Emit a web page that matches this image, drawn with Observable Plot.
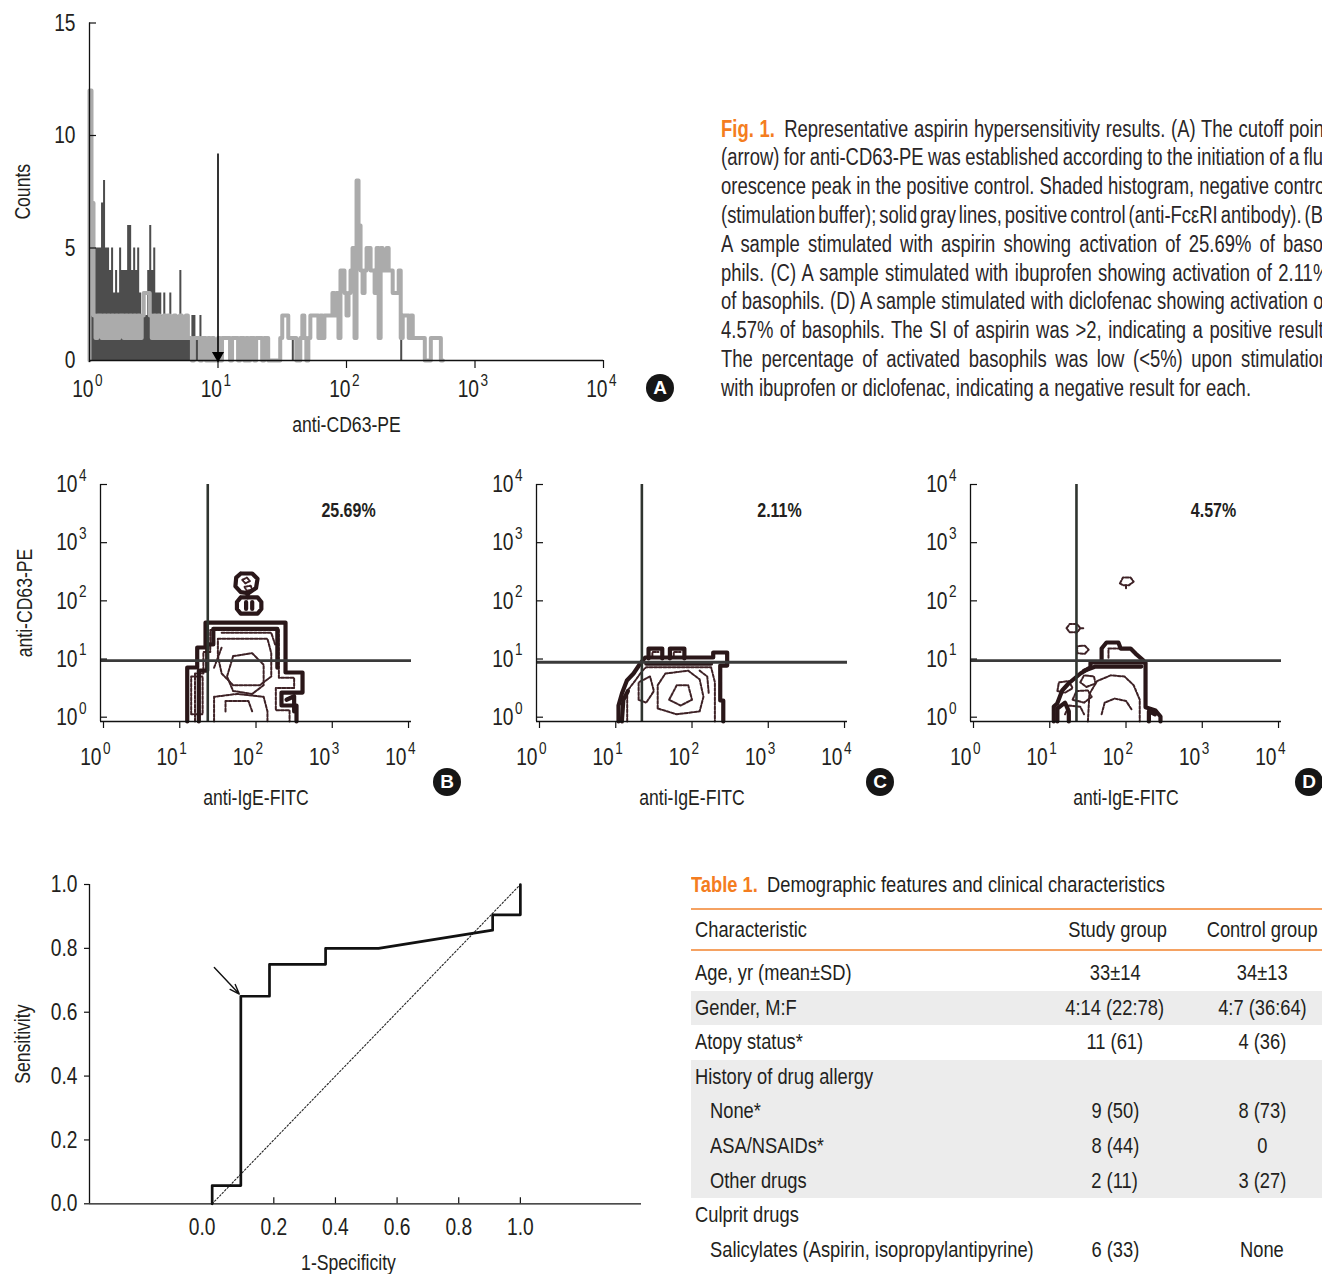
<!DOCTYPE html>
<html><head><meta charset="utf-8">
<script src="https://cdn.jsdelivr.net/npm/d3@7"></script>
<script src="https://cdn.jsdelivr.net/npm/@observablehq/plot@0.6"></script>
<style>
html,body{margin:0;padding:0;background:#fff}
#page{position:relative;width:1322px;height:1274px;overflow:hidden;background:#fff;color:#231f20;
  font-family:"Liberation Sans",Arimo,Arial,sans-serif}
.badge{position:absolute;width:28px;height:28px;border-radius:50%;background:#161616;color:#fff;
  font:bold 19px "Liberation Sans",Arial,sans-serif;display:flex;align-items:center;justify-content:center}
.cap{position:absolute;left:721px;font-size:23px;line-height:28.8px;height:28.8px;white-space:nowrap;color:#2a2627}
.cap > span{display:inline-block;transform-origin:0 50%}
.orange{color:#f47d20;font-weight:bold}
.cell{position:absolute;white-space:nowrap;font-size:22.5px;line-height:34.6px;height:34.6px}
.cell > span{display:inline-block}
.rule{position:absolute;left:691px;width:700px;height:2px;background:#f5a262}
.shade{position:absolute;left:691px;width:700px;height:34.6px;background:#ececec}
</style></head>
<body><div id="page"></div>
<script>
// ---------------- DATA ----------------
// Panel A: histogram counts per channel (64 channels per decade, starting at 10^0)
const channelsPerDecade = 64;
const negativeCounts = [5,5,5,5,5,5,7,8,5,5,4,5,3,4,3,5,4,4,4,6,6,4,5,4,5,3,2,2,2,4,6,4,5,3,3,3,2,3,2,2,3,1,2,1,2,4,2,1,1,1,1,2,2,1,1,2,1];
const negativeStray = [[101,1],[155,1]]; // [channel, count]
const positiveCounts = [12,7,2,1,2,2,1,2,1,2,1,2,1,2,1,2,2,1,2,1,2,1,2,1,2,1,2,3,3,3,2,1,2,1,2,1,1,2,1,2,1,1,2,1,1,2,1,1,2,1,1,0,1,1,1,0,1,1,0,1,
  0,1,0,0,1,0,1,1,
  1,1,0,1,1,1,0,1,1,0,1,0,1,1,0,1,1,1,0,1,1,
  0,0,0,0,0,0,
  1,2,2,2,1,1,1,1,0,0,1,2,1,0,1,2,2,2,2,1,2,1,2,2,2,2,3,2,3,1,4,4,3,2,3,4,5,1,8,6,4,3,4,5,5,4,4,3,5,1,5,4,4,5,4,4,3,3,3,4,1,2,2,2,1,2,1,1,1,1,1,1,0,0,0,1,1,1,1,1,0];
const countTicks = [0, 5, 10, 15];
const decades = [1, 10, 100, 1000, 10000];
const cutoffArrow = [{x: 10, top: 9.2, bottom: 0}];

// Panels B-D: contour outlines, [log10 anti-IgE-FITC, log10 anti-CD63-PE]
const bThick = [
  [[1.098,-0.074],[1.098,0.854],[1.229,0.854],[1.229,1.198],[1.338,1.198],[1.338,1.627],[2.387,1.627],[2.387,0.768],[2.61,0.768],[2.61,0.424],[2.334,0.424],[2.334,0.201],[2.531,0.201],[2.531,-0.074]],
  [[1.25,-0.074],[1.25,0.80],[1.36,0.80],[1.36,1.25],[1.44,1.25],[1.44,1.52],[2.28,1.52],[2.28,0.85]],
  [[1.80,2.06],[2.02,2.06],[2.07,1.98],[2.07,1.86],[2.02,1.78],[1.80,1.78],[1.75,1.86],[1.75,1.98],[1.80,2.06]],
  [[1.87,1.86],[1.87,1.98]],
  [[1.95,1.86],[1.95,1.98]],
  [[1.80,2.47],[1.95,2.47],[2.02,2.38],[2.00,2.22],[1.90,2.13],[1.80,2.15],[1.73,2.25],[1.74,2.40],[1.80,2.47]],
  [[1.89,2.13],[1.89,2.06]],
  [[2.40,0.30],[2.50,0.36],[2.50,0.10]]
];
const bThin = [
  [[1.20,-0.074],[1.20,0.75],[1.31,0.75],[1.31,1.12],[1.40,1.12],[1.40,1.50],[2.30,1.50],[2.30,0.68],[2.50,0.68],[2.50,0.50],[2.26,0.50],[2.26,0.12],[2.44,0.12],[2.44,-0.074]],
  [[1.50,1.35],[2.15,1.35],[2.20,1.10],[2.20,0.70],[2.05,0.55],[1.70,0.55],[1.55,0.75],[1.50,1.05],[1.50,1.35]],
  [[1.70,1.05],[1.95,1.10],[2.10,0.90],[2.10,0.55],[1.95,0.40],[1.70,0.45],[1.62,0.70],[1.70,1.05]],
  [[1.45,-0.074],[1.45,0.35],[1.75,0.40],[2.10,0.35],[2.15,0.10],[2.15,-0.074]],
  [[1.15,0.05],[1.15,0.70],[1.30,0.70],[1.30,0.05],[1.15,0.05]],
  [[1.55,1.45],[2.20,1.45],[2.25,1.25]],
  [[1.60,0.10],[1.60,0.28],[1.90,0.28],[1.95,0.10]],
  [[1.45,0.85],[1.55,1.20]],
  [[1.82,2.36],[1.88,2.40],[1.92,2.34],[1.86,2.30],[1.82,2.36]],
  [[1.85,2.24],[1.93,2.26],[1.95,2.20],[1.88,2.17],[1.85,2.24]]
];
const cThick = [
  [[1.036,-0.074],[1.036,0.20],[1.081,0.407],[1.146,0.631],[1.233,0.751],[1.321,0.923],[1.386,1.026],[2.278,1.026],[2.278,1.112],[2.461,1.112],[2.461,0.888],[2.37,0.888],[2.37,0.287],[2.41,0.287],[2.41,-0.074]],
  [[1.43,1.01],[1.43,1.18],[1.61,1.18],[1.61,1.01]],
  [[1.71,1.01],[1.71,1.18],[1.90,1.18],[1.90,1.01]],
  [[1.40,0.92],[2.25,0.92]],
  [[1.08,-0.074],[1.10,0.30],[1.16,0.45]]
];
const cThin = [
  [[1.15,-0.074],[1.15,0.45],[1.25,0.62],[1.35,0.80],[1.40,0.86],[2.25,0.86],[2.30,0.60],[2.30,-0.074]],
  [[1.55,0.15],[1.55,0.55],[1.65,0.75],[1.95,0.80],[2.10,0.65],[2.15,0.35],[2.10,0.10],[1.80,0.05],[1.55,0.15]],
  [[1.30,0.30],[1.30,0.60],[1.45,0.70],[1.50,0.45],[1.40,0.25],[1.30,0.30]],
  [[1.70,0.30],[1.80,0.55],[1.95,0.55],[2.00,0.30],[1.85,0.20],[1.70,0.30]],
  [[1.48,1.05],[1.48,1.12],[1.56,1.12]],
  [[1.76,1.05],[1.76,1.12],[1.85,1.12]],
  [[2.10,0.80],[2.20,0.70],[2.22,0.40]]
];
const dThick = [
  [[1.053,-0.074],[1.053,0.184],[1.098,0.235],[1.163,0.459],[1.246,0.579],[1.403,0.751],[1.534,0.859],[1.534,0.94],[2.256,0.94],[2.256,0.172],[2.387,0.115],[2.452,0.012],[2.452,-0.074]],
  [[1.68,0.974],[1.68,1.18],[1.744,1.284],[1.90,1.284],[1.93,1.18],[2.06,1.18],[2.125,1.094],[2.23,0.974]],
  [[1.45,0.80],[1.60,0.87],[2.20,0.87]],
  [[1.10,-0.074],[1.10,0.15],[1.20,0.25],[1.25,0.10],[1.25,-0.074]],
  [[2.30,-0.074],[2.30,0.10],[2.38,0.05]]
];
const dThin = [
  [[1.77,1.02],[1.77,1.18],[1.93,1.18]],
  [[1.92,2.30],[1.96,2.40],[2.06,2.40],[2.10,2.33],[2.04,2.27],[1.96,2.27],[1.92,2.30]],
  [[2.00,2.27],[2.00,2.20]],
  [[1.22,1.53],[1.26,1.60],[1.36,1.60],[1.40,1.53],[1.36,1.46],[1.26,1.46],[1.22,1.53]],
  [[1.40,1.53],[1.45,1.53]],
  [[1.36,1.10],[1.36,1.22],[1.46,1.23],[1.51,1.16],[1.46,1.09],[1.36,1.10]],
  [[1.50,-0.074],[1.52,0.40],[1.62,0.62],[1.80,0.72],[1.98,0.70],[2.10,0.55],[2.18,0.30],[2.18,-0.074]],
  [[1.68,0.05],[1.72,0.25],[1.85,0.32],[2.00,0.28],[2.08,0.12]],
  [[1.10,0.45],[1.12,0.60],[1.25,0.62],[1.30,0.50],[1.20,0.42],[1.10,0.45]],
  [[1.30,0.30],[1.35,0.45],[1.50,0.46],[1.55,0.35],[1.45,0.25],[1.30,0.30]],
  [[1.40,0.60],[1.45,0.72],[1.58,0.70],[1.60,0.58],[1.48,0.52],[1.40,0.60]],
  [[1.20,0.05],[1.25,0.20],[1.40,0.18],[1.45,0.05]]
];
const quadB = [23.3, 9.4], quadC = [22, 8.8], quadD = [22.4, 9.4];
const percentB = "25.69%", percentC = "2.11%", percentD = "4.57%";

// ROC curve
const rocFpr = [0, 0, 0.093, 0.093, 0.186, 0.186, 0.368, 0.368, 0.54, 0.91, 0.91, 1.0, 1.0];
const rocTpr = [0, 0.057, 0.057, 0.65, 0.65, 0.75, 0.75, 0.80, 0.80, 0.857, 0.905, 0.905, 1.0];
const chanceLine = [[0, 0], [1, 1]];
const cutoffPointer = [{x1: 0.007, y1: 0.74, x2: 0.088, y2: 0.657}];
const rocTicks = [0, 0.2, 0.4, 0.6, 0.8, 1.0];

// Caption & table text
const captionLines = [
  "Representative aspirin hypersensitivity results. (A) The cutoff point",
  "(arrow) for anti-CD63-PE was established according to the initiation of a flu-",
  "orescence peak in the positive control. Shaded histogram, negative control",
  "(stimulation buffer); solid gray lines, positive control (anti-Fc\u03b5RI antibody). (B)",
  "A sample stimulated with aspirin showing activation of 25.69% of baso-",
  "phils. (C) A sample stimulated with ibuprofen showing activation of 2.11%",
  "of basophils. (D) A sample stimulated with diclofenac showing activation of",
  "4.57% of basophils. The SI of aspirin was >2, indicating a positive result.",
  "The percentage of activated basophils was low (<5%) upon stimulation",
  "with ibuprofen or diclofenac, indicating a negative result for each."
];
const tableTitle = ["Table 1.", "Demographic features and clinical characteristics"];
const tableHeader = ["Characteristic", "Study group", "Control group"];
const tableChar = ["Age, yr (mean\u00b1SD)", "Gender, M:F", "Atopy status*", "History of drug allergy", "None*", "ASA/NSAIDs*", "Other drugs", "Culprit drugs", "Salicylates (Aspirin, isopropylantipyrine)"];
const tableStudy = ["33\u00b114", "4:14 (22:78)", "11 (61)", "", "9 (50)", "8 (44)", "2 (11)", "", "6 (33)"];
const tableControl = ["34\u00b113", "4:7 (36:64)", "4 (36)", "", "8 (73)", "0", "3 (27)", "", "None"];
const tableIndent = [0, 0, 0, 0, 1, 1, 1, 0, 1];
const tableShade = [0, 1, 0, 1, 1, 1, 1, 0, 0];

// ---------------- RENDER ----------------
const FONT = '"Liberation Sans",Arimo,Arial,sans-serif';
const SVG_CONDENSE = 0.8;
const INK = "#231f20";
const page = document.getElementById("page");
const baseStyle = {fontFamily: FONT, fontSize: "22px", color: INK, background: "transparent", overflow: "visible", maxWidth: "none"};
function condense(svg, S) {
  svg.querySelectorAll("text").forEach(t => {
    const x = t.getAttribute("x");
    let pre = "";
    if (x && !isNaN(+x) && +x !== 0) { pre = `translate(${+x},0) `; t.removeAttribute("x"); }
    t.setAttribute("transform", ((t.getAttribute("transform") || "") + " " + pre + `scale(${S},1)`).trim());
  });
  return svg;
}
function place(el, left, top) { el.style.position = "absolute"; el.style.left = left + "px"; el.style.top = top + "px"; el.style.maxWidth = "none"; page.appendChild(el); return el; }

function xPowLabels(ticks, dy, dx) {
  return [
    Plot.text(ticks, {x: d => d, text: () => "10", frameAnchor: "bottom", lineAnchor: "middle", dy, dx, textAnchor: "end", fontSize: 24}),
    Plot.text(ticks, {x: d => d, text: d => String(Math.round(Math.log10(d))), frameAnchor: "bottom", lineAnchor: "middle", dy: dy - 9, dx: dx + 1.5, textAnchor: "start", fontSize: 17})
  ];
}
function yPowLabels(ticks, dx) {
  return [
    Plot.text(ticks, {y: d => d, text: () => "10", frameAnchor: "left", lineAnchor: "middle", dx, textAnchor: "end", fontSize: 24}),
    Plot.text(ticks, {y: d => d, text: d => String(Math.round(Math.log10(d))), frameAnchor: "left", lineAnchor: "middle", dy: -9, dx: dx + 1.5, textAnchor: "start", fontSize: 17})
  ];
}

// Panel A
{
  const W = 680, H = 440, mL = 89, mR = 77, mT = 22.5, mB = 80;
  const fw = W - mL - mR, fh = H - mT - mB;
  const neg = negativeCounts.map((c, i) => ({x: 10 ** (i / channelsPerDecade), c}));
  neg.push({x: 10 ** (negativeCounts.length / channelsPerDecade), c: 0});
  const pos = [{x: 1, c: 0}, ...positiveCounts.map((c, i) => ({x: 10 ** (i / channelsPerDecade), c}))];
  pos.push({x: 10 ** (positiveCounts.length / channelsPerDecade), c: 0});
  const svg = Plot.plot({
    width: W, height: H, marginLeft: mL, marginRight: mR, marginTop: mT, marginBottom: mB,
    x: {type: "log", domain: [1, 1e4], axis: null},
    y: {domain: [0, 15], axis: null},
    style: baseStyle,
    marks: [
      Plot.areaY(neg, {x: "x", y: "c", curve: "step-after", fill: "#4d4d4d"}),
      Plot.rectY(negativeStray, {x1: d => 10 ** (d[0] / channelsPerDecade), x2: d => 10 ** ((d[0] + 1) / channelsPerDecade), y: d => d[1], fill: "#4d4d4d"}),
      Plot.line(pos, {x: "x", y: "c", curve: "step-after", stroke: "#ababab", strokeWidth: 4}),
      Plot.ruleX([1], {stroke: "#111", strokeWidth: 1.3, insetBottom: -2}),
      Plot.ruleY([0], {stroke: "#111", strokeWidth: 1.3}),
      Plot.ruleY(countTicks.slice(1), {y: d => d, insetRight: fw - 7, stroke: "#111", strokeWidth: 1.2}),
      Plot.ruleX(decades.slice(1), {x: d => d, insetTop: fh, insetBottom: -8, stroke: "#111", strokeWidth: 1.2}),
      Plot.link(cutoffArrow, {x1: "x", x2: "x", y1: "top", y2: "bottom", stroke: "#000", strokeWidth: 1.6}),
      Plot.dot(cutoffArrow, {x: "x", y: "bottom", symbol: "triangle", rotate: 180, r: 4.5, fill: "#000", stroke: null, dy: -5}),
      Plot.text(countTicks, {y: d => d, text: d => String(d), frameAnchor: "left", lineAnchor: "middle", dx: -14, textAnchor: "end", fontSize: 24}),
      ...xPowLabels(decades, 29, 4),
      Plot.text(["anti-CD63-PE"], {text: d => d, frameAnchor: "bottom", lineAnchor: "middle", textAnchor: "middle", dy: 64, fontSize: 22}),
      Plot.text(["Counts"], {text: d => d, frameAnchor: "left", lineAnchor: "middle", textAnchor: "middle", dx: -67, rotate: -90, fontSize: 22})
    ]
  });
  place(condense(svg, SVG_CONDENSE), 0, 0);
}

// Panels B, C, D
const X0 = 10 ** -0.0393, X1 = 10 ** 4.039, Y0 = 10 ** -0.074, Y1 = 1e4;
function ringRows(rings) { return rings.flatMap((pts, k) => pts.map(([lx, ly]) => ({x: 10 ** lx, y: 10 ** ly, ring: k}))); }
function facsPanel(thick, thin, quad, pct, pctDx, yTitle) {
  const W = 435, H = 400, mL = 100, mR = 24, mT = 44, mB = 119;
  const fw = W - mL - mR, fh = H - mT - mB;
  const marks = [
    Plot.line(ringRows(thin), {x: "x", y: "y", z: "ring", stroke: "#3e2226", strokeWidth: 2, strokeDasharray: "3,1.6"}),
    Plot.line(ringRows(thick), {x: "x", y: "y", z: "ring", stroke: "#2a1719", strokeWidth: 4.2}),
    Plot.ruleX([quad[0]], {stroke: "#2f342f", strokeWidth: 2.6}),
    Plot.ruleY([quad[1]], {stroke: "#3a3a3a", strokeWidth: 2.8}),
    Plot.ruleX([X0], {stroke: "#111", strokeWidth: 1.3}),
    Plot.ruleY([Y0], {stroke: "#111", strokeWidth: 1.3}),
    Plot.ruleY(decades, {y: d => d, insetRight: fw - 7, stroke: "#111", strokeWidth: 1.2}),
    Plot.ruleX(decades, {x: d => d, insetTop: fh, insetBottom: -7, stroke: "#111", strokeWidth: 1.2}),
    ...xPowLabels(decades, 36, -2),
    ...yPowLabels(decades, -23),
    Plot.text([pct], {text: d => d, frameAnchor: "top-right", lineAnchor: "middle", dx: pctDx, dy: 26, textAnchor: "middle", fontSize: 20, fontWeight: "bold"}),
    Plot.text(["anti-IgE-FITC"], {text: d => d, frameAnchor: "bottom", lineAnchor: "middle", textAnchor: "middle", dy: 76, fontSize: 22})
  ];
  if (yTitle) marks.push(Plot.text([yTitle], {text: d => d, frameAnchor: "left", lineAnchor: "middle", textAnchor: "middle", dx: -76, rotate: -90, fontSize: 22}));
  return condense(Plot.plot({
    width: W, height: H, marginLeft: mL, marginRight: mR, marginTop: mT, marginBottom: mB,
    x: {type: "log", domain: [X0, X1], axis: null},
    y: {type: "log", domain: [Y0, Y1], axis: null},
    style: baseStyle,
    marks
  }), SVG_CONDENSE);
}
place(facsPanel(bThick, bThin, quadB, percentB, -63, "anti-CD63-PE"), 0, 440);
place(facsPanel(cThick, cThin, quadC, percentC, -68, null), 436, 440);
place(facsPanel(dThick, dThin, quadD, percentD, -68, null), 870, 440);

// ROC
{
  const W = 660, H = 414, mL = 89, mR = 19, mT = 24, mB = 70.7;
  const fw = W - mL - mR, fh = H - mT - mB;
  const xMin = -0.398, xMax = 1.393;
  const rows = rocFpr.map((f, i) => ({f, t: rocTpr[i]}));
  const svg = Plot.plot({
    width: W, height: H, marginLeft: mL, marginRight: mR, marginTop: mT, marginBottom: mB,
    x: {domain: [xMin, xMax], axis: null},
    y: {domain: [0, 1], axis: null},
    style: baseStyle,
    marks: [
      Plot.line(chanceLine, {x: d => d[0], y: d => d[1], stroke: "#222", strokeWidth: 1.1, strokeDasharray: "1.6,2"}),
      Plot.line(rows, {x: "f", y: "t", stroke: "#111", strokeWidth: 2.7}),
      Plot.arrow(cutoffPointer, {x1: "x1", y1: "y1", x2: "x2", y2: "y2", stroke: "#111", strokeWidth: 1.4, headLength: 11, headAngle: 40}),
      Plot.ruleX([xMin], {stroke: "#111", strokeWidth: 1.3}),
      Plot.ruleY([0], {stroke: "#111", strokeWidth: 1.3}),
      Plot.ruleY(rocTicks, {y: d => d, insetLeft: -5, insetRight: fw, stroke: "#111", strokeWidth: 1.2}),
      Plot.ruleX(rocTicks.slice(1), {x: d => d, insetTop: fh - 6, stroke: "#111", strokeWidth: 1.2}),
      Plot.text(rocTicks.slice(0, 1), {x: d => d, text: d => d.toFixed(1), frameAnchor: "bottom", lineAnchor: "middle", textAnchor: "middle", dy: 24, dx: -10, fontSize: 24}),
      Plot.text(rocTicks.slice(1), {x: d => d, text: d => d.toFixed(1), frameAnchor: "bottom", lineAnchor: "middle", textAnchor: "middle", dy: 24, fontSize: 24}),
      Plot.text(rocTicks, {y: d => d, text: d => d.toFixed(1), frameAnchor: "left", lineAnchor: "middle", dx: -12, textAnchor: "end", fontSize: 24}),
      Plot.text(["Sensitivity"], {text: d => d, frameAnchor: "left", lineAnchor: "middle", textAnchor: "middle", dx: -67, rotate: -90, fontSize: 22}),
      Plot.text(["1-Specificity"], {text: d => d, frameAnchor: "bottom", lineAnchor: "middle", textAnchor: "middle", dx: -17, dy: 59, fontSize: 22})
    ]
  });
  place(condense(svg, SVG_CONDENSE), 0, 860);
}

// Caption (justified lines, condensed to the reference's measure)
{
  const spans = captionLines.map((line, i) => {
    const div = document.createElement("div");
    div.className = "cap";
    div.style.top = (114.6 + i * 28.8) + "px";
    const s = document.createElement("span");
    if (i === 0) s.innerHTML = '<b class="orange">Fig. 1.</b>\u2002';
    s.appendChild(document.createTextNode(line));
    div.appendChild(s);
    page.appendChild(div);
    return s;
  });
  const lastW = spans[spans.length - 1].offsetWidth;
  const S = 530 / lastW;
  spans.forEach((s, i) => {
    if (i < spans.length - 1) {
      const spaces = (captionLines[i].match(/ /g) || []).length + (i === 0 ? 1 : 0);
      const extra = (608 / S - s.offsetWidth) / spaces;
      s.style.wordSpacing = extra + "px";
    }
    s.style.transform = `scaleX(${S})`;
  });
}

// Table
{
  const cells = [];
  function cell(text, left, top, center, cls) {
    const d = document.createElement("div"); d.className = "cell";
    d.style.top = top + "px";
    if (center) { d.style.left = (left - 100) + "px"; d.style.width = "200px"; d.style.textAlign = "center"; }
    else d.style.left = left + "px";
    const s = document.createElement("span");
    if (cls) s.className = cls;
    s.innerHTML = text;
    s.style.transformOrigin = center ? "50% 50%" : "0 50%";
    d.appendChild(s); page.appendChild(d); cells.push(s); return s;
  }
  tableShade.forEach((sh, i) => { if (sh) { const b = document.createElement("div"); b.className = "shade"; b.style.top = (956 + i * 34.6) + "px"; page.appendChild(b); } });
  cell(`<b class="orange">${tableTitle[0]}</b>\u2002${tableTitle[1]}`, 691, 867.7, false);
  [908, 949].forEach(y => { const r = document.createElement("div"); r.className = "rule"; r.style.top = y + "px"; page.appendChild(r); });
  cell(tableHeader[0], 695, 912.7, false);
  cell(tableHeader[1], 1118, 912.7, true);
  cell(tableHeader[2], 1262, 912.7, true);
  tableChar.forEach((c, i) => {
    const top = 956 + i * 34.6;
    cell(c, tableIndent[i] ? 710 : 695, top, false);
    if (tableStudy[i]) cell(tableStudy[i], 1115, top, true);
    if (tableControl[i]) cell(tableControl[i], 1262, top, true);
  });
  const titleTextW = (() => { const m = document.createElement("span"); m.style.cssText = "position:absolute;visibility:hidden;white-space:nowrap;font-size:22.5px"; m.textContent = tableTitle[1]; page.appendChild(m); const w = m.offsetWidth; m.remove(); return w; })();
  const S = 398 / titleTextW;
  cells.forEach(s => s.style.transform = `scaleX(${S})`);
}

// Panel badges
[["A", 660, 388], ["B", 447, 782], ["C", 880, 782], ["D", 1309, 782]].forEach(([l, cx, cy]) => {
  const b = document.createElement("div"); b.className = "badge"; b.textContent = l;
  b.style.left = (cx - 14) + "px"; b.style.top = (cy - 14) + "px"; page.appendChild(b);
});
</script>
</body></html>
